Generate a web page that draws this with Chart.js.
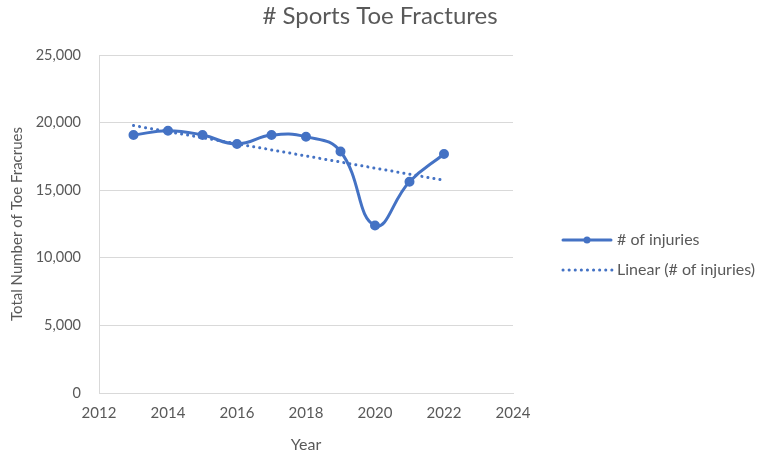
<!DOCTYPE html>
<html>
<head>
<meta charset="utf-8">
<script src="https://cdn.jsdelivr.net/npm/chart.js@4/dist/chart.umd.min.js"></script>
<style>
  html, body { margin: 0; padding: 0; background: #ffffff; }
  #wrap { width: 768px; height: 458px; position: relative; }
</style>
</head>
<body>
<div id="wrap"><canvas id="c" width="768" height="458"></canvas></div>
<script>
// ---- data ----
const chartTitle = '# Sports Toe Fractures';
const years = [2013, 2014, 2015, 2016, 2017, 2018, 2019, 2020, 2021, 2022];
const injuries = [19080, 19400, 19080, 18420, 19080, 18960, 17860, 12390, 15630, 17680];
const seriesName = '# of injuries';
const trendName = 'Linear (# of injuries)';
const xTitle = 'Year';
const yTitle = 'Total Number of Toe Fracrues';

// least-squares trend line (as the spreadsheet's "Linear" trendline)
const n = years.length;
const mx = years.reduce((a, b) => a + b, 0) / n;
const my = injuries.reduce((a, b) => a + b, 0) / n;
let sxy = 0, sxx = 0;
for (let i = 0; i < n; i++) { sxy += (years[i] - mx) * (injuries[i] - my); sxx += (years[i] - mx) ** 2; }
const slope = sxy / sxx;
const trend = years.map(x => my + slope * (x - mx));

const BLUE = '#4472C4';
const TXT = '#595959';
const FONT = 'Lato, "Open Sans", sans-serif';

const overlay = {
  id: 'overlay',
  afterDraw(chart) {
    const ctx = chart.ctx;
    ctx.save();
    // title
    ctx.fillStyle = TXT;
    ctx.font = '24px ' + FONT;
    ctx.textAlign = 'center';
    ctx.textBaseline = 'middle';
    ctx.fillText(chartTitle, 380, 16);
    // legend
    ctx.strokeStyle = BLUE;
    ctx.lineWidth = 3;
    ctx.lineCap = 'round';
    ctx.beginPath(); ctx.moveTo(563, 240); ctx.lineTo(611, 240); ctx.stroke();
    ctx.fillStyle = BLUE;
    ctx.beginPath(); ctx.arc(587, 240, 3.5, 0, Math.PI * 2); ctx.fill();
    ctx.setLineDash([0.1, 6]);
    ctx.lineWidth = 3;
    ctx.beginPath(); ctx.moveTo(563, 270); ctx.lineTo(612, 270); ctx.stroke();
    ctx.setLineDash([]);
    ctx.fillStyle = TXT;
    ctx.font = '16px ' + FONT;
    ctx.textAlign = 'left';
    ctx.fillText(seriesName, 617, 240);
    ctx.fillText(trendName, 617, 270);
    ctx.restore();
  }
};

new Chart(document.getElementById('c'), {
  type: 'line',
  data: {
    datasets: [
      {
        label: seriesName,
        data: years.map((x, i) => ({ x, y: injuries[i] })),
        borderColor: BLUE,
        backgroundColor: BLUE,
        borderWidth: 3,
        pointRadius: 3.5,
        pointHoverRadius: 3.5,
        pointBackgroundColor: BLUE,
        pointBorderColor: BLUE,
        tension: 0.45,
        order: 1
      },
      {
        label: trendName,
        data: years.map((x, i) => ({ x, y: trend[i] })),
        borderColor: BLUE,
        borderWidth: 3,
        borderDash: [0.1, 6],
        borderCapStyle: 'round',
        pointRadius: 0,
        tension: 0,
        order: 2
      }
    ]
  },
  options: {
    responsive: false,
    animation: false,
    events: [],
    layout: { padding: { left: 0, top: 55, right: 255, bottom: 0 } },
    plugins: {
      legend: { display: false },
      title: { display: false },
      tooltip: { enabled: false }
    },
    scales: {
      x: {
        type: 'linear',
        min: 2012,
        max: 2024,
        ticks: {
          stepSize: 2,
          color: TXT,
          font: { family: FONT, size: 15 },
          padding: 11,
          callback: v => String(v)
        },
        grid: { display: false, drawTicks: false },
        border: { display: true, color: '#D9D9D9', width: 1 },
        title: { display: true, text: xTitle, color: TXT, font: { family: FONT, size: 16 }, padding: { top: 4, bottom: 4 } },
        afterFit: s => { s.height = 65; }
      },
      y: {
        min: 0,
        max: 25000,
        ticks: {
          stepSize: 5000,
          color: TXT,
          font: { family: FONT, size: 14.5 },
          padding: 18
        },
        grid: { color: '#D9D9D9', lineWidth: 1, drawTicks: false },
        border: { display: true, color: '#D9D9D9', width: 1 },
        title: { display: true, text: yTitle, color: TXT, font: { family: FONT, size: 15 }, padding: { top: 8, bottom: 0 } },
        afterFit: s => { s.width = 99; }
      }
    }
  },
  plugins: [overlay]
});
</script>
</body>
</html>
